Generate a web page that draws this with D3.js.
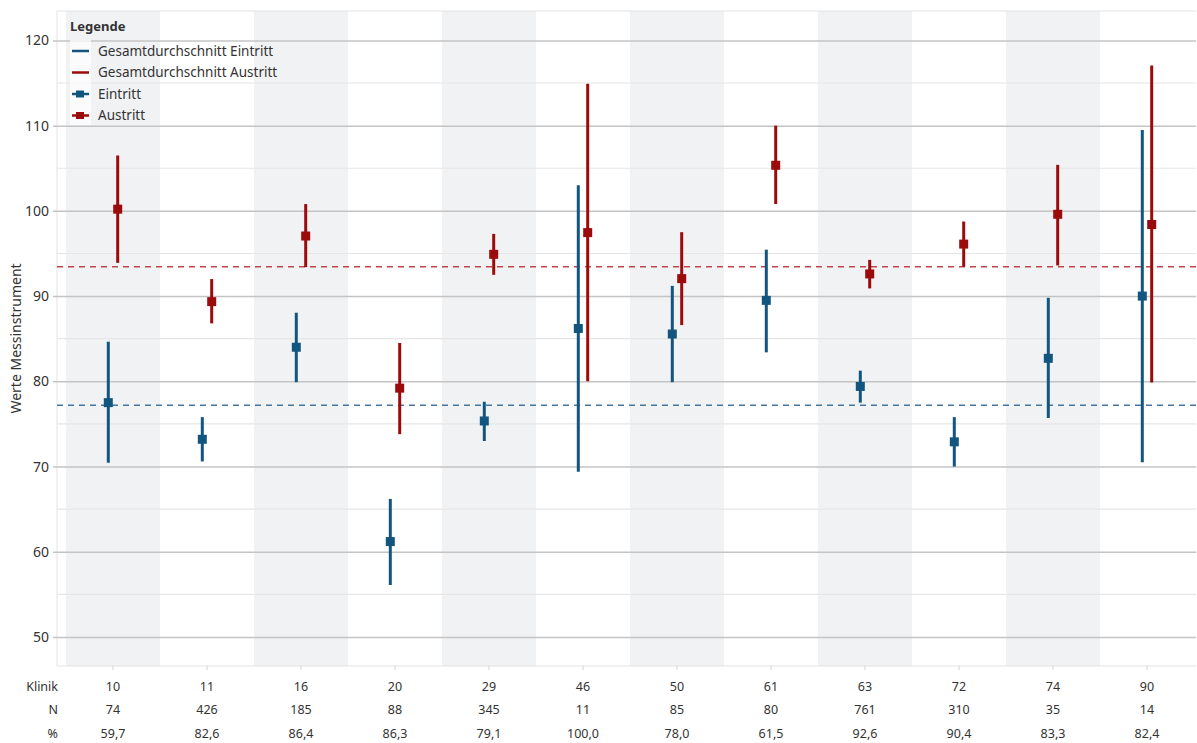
<!DOCTYPE html>
<html>
<head>
	<meta charset="utf-8">
	<title>Werte Messinstrument nach Klinik</title>
	<script src="https://d3js.org/d3.v7.min.js"></script>
	<style>
		body { margin: 0; background: #fff; }
		text { font-family: "Noto Sans", "Open Sans", sans-serif; fill: #333; }
	</style>
</head>
<body>
	<div id="chart"></div>
	<script>
		// data
		var kliniken = ["10","11","16","20","29","46","50","61","63","72","74","90"];
		var nValues = ["74","426","185","88","345","11","85","80","761","310","35","14"];
		var pctValues = ["59,7","82,6","86,4","86,3","79,1","100,0","78,0","61,5","92,6","90,4","83,3","82,4"];

		var eintrittMean = [77.5, 73.2, 84.0, 61.2, 75.35, 86.2, 85.55, 89.5, 79.4, 72.9, 82.7, 90.0];
		var eintrittLow  = [70.45, 70.6, 79.9, 56.1, 73.0, 69.4, 79.9, 83.4, 77.5, 70.0, 75.7, 70.5];
		var eintrittHigh = [84.65, 75.8, 88.05, 66.2, 77.6, 103.0, 91.2, 95.45, 81.25, 75.8, 89.8, 109.5];

		var austrittMean = [100.2, 89.35, 97.05, 79.2, 94.9, 97.45, 92.05, 105.35, 92.6, 96.1, 99.6, 98.4];
		var austrittLow  = [93.9, 86.8, 93.4, 73.8, 92.5, 80.0, 86.6, 100.8, 90.9, 93.45, 93.6, 79.85];
		var austrittHigh = [106.5, 92.0, 100.8, 84.5, 97.3, 114.9, 97.5, 110.0, 94.25, 98.75, 105.4, 117.05];

		var meanEintritt = 77.2;
		var meanAustritt = 93.45;

		var yTicks = [50, 60, 70, 80, 90, 100, 110, 120];
		var yMinor = [55, 65, 75, 85, 95, 105, 115];

		var w = 1197, h = 743;
		var blue = "#12557e", red = "#9c0b0b";

		var svg = d3.select("#chart").append("svg")
			.attr("width", w)
			.attr("height", h);

		// plot area (note: "top" is reserved on window, hence plot*)
		var plotLeft = 57, plotRight = 1196, plotTop = 11, plotBottom = 666;

		var x = d3.scaleBand().domain(kliniken).range([66, 1194]).padding(0);
		var y = d3.scaleLinear().domain([46.6, 123.45]).range([plotBottom, plotTop]);

		// alternating background bands
		svg.selectAll(".band")
			.data(kliniken.filter(function(d, i) { return i % 2 == 0; }))
			.enter().append("rect")
			.attr("class", "band")
			.attr("x", function(d) { return x(d); })
			.attr("y", plotTop)
			.attr("width", x.bandwidth())
			.attr("height", plotBottom - plotTop)
			.attr("fill", "#f1f2f4");

		// plot border (top, left, bottom)
		svg.append("path")
			.attr("d", "M" + plotRight + "," + plotTop + "H" + plotLeft + "V" + plotBottom + "H" + plotRight)
			.attr("fill", "none")
			.attr("stroke", "#e3e3e3")
			.attr("stroke-width", 1);

		// minor grid
		svg.selectAll(".minor")
			.data(yMinor)
			.enter().append("line")
			.attr("x1", plotLeft).attr("x2", plotRight)
			.attr("y1", function(d) { return y(d); })
			.attr("y2", function(d) { return y(d); })
			.attr("stroke", "#e6e6e6")
			.attr("stroke-width", 1.2);

		// y axis with major grid
		var yAxis = d3.axisLeft(y)
			.tickValues(yTicks)
			.tickSize(4)
			.tickFormat(d3.format("d"));

		var gy = svg.append("g")
			.attr("transform", "translate(" + plotLeft + ",0)")
			.call(yAxis);
		gy.select(".domain").remove();
		gy.selectAll(".tick line")
			.attr("x1", -4)
			.attr("x2", plotRight - plotLeft)
			.attr("stroke", "#c4c4c4")
			.attr("stroke-width", 1.5);
		gy.selectAll(".tick text")
			.attr("x", -8)
			.style("font-family", "'Noto Sans', sans-serif")
			.style("font-size", "14px")
			.attr("fill", "#333");

		svg.append("text")
			.attr("transform", "translate(21," + ((plotTop + plotBottom) / 2) + ") rotate(-90)")
			.attr("text-anchor", "middle")
			.style("font-size", "14px")
			.text("Werte Messinstrument");

		// x ticks at the bottom
		var xAxis = d3.axisBottom(x).tickSize(4).tickFormat("");
		var gx = svg.append("g")
			.attr("transform", "translate(0," + plotBottom + ")")
			.call(xAxis);
		gx.select(".domain").remove();
		gx.selectAll(".tick line").attr("stroke", "#d0d0d0");

		// overall mean lines
		svg.append("line")
			.attr("x1", plotLeft).attr("x2", plotRight)
			.attr("y1", y(meanAustritt)).attr("y2", y(meanAustritt))
			.attr("stroke", "#c04448")
			.attr("stroke-width", 1.6)
			.attr("stroke-dasharray", "6,5");
		svg.append("line")
			.attr("x1", plotLeft).attr("x2", plotRight)
			.attr("y1", y(meanEintritt)).attr("y2", y(meanEintritt))
			.attr("stroke", "#4476a0")
			.attr("stroke-width", 1.6)
			.attr("stroke-dasharray", "6,5");

		// error bars + points
		function drawSeries(mean, low, high, color, offset) {
			var cx = function(d, i) { return x(kliniken[i]) + x.bandwidth() / 2 + offset; };
			var g = svg.append("g");
			g.selectAll("line")
				.data(mean)
				.enter().append("line")
				.attr("x1", cx).attr("x2", cx)
				.attr("y1", function(d, i) { return y(low[i]); })
				.attr("y2", function(d, i) { return y(high[i]); })
				.attr("stroke", color)
				.attr("stroke-width", 3);
			g.selectAll("rect")
				.data(mean)
				.enter().append("rect")
				.attr("x", function(d, i) { return cx(d, i) - 4.5; })
				.attr("y", function(d) { return y(d) - 4.5; })
				.attr("width", 9)
				.attr("height", 9)
				.attr("fill", color);
		}
		drawSeries(eintrittMean, eintrittLow, eintrittHigh, blue, -4.7);
		drawSeries(austrittMean, austrittLow, austrittHigh, red, 4.7);

		// legend
		var legend = svg.append("g");
		legend.append("rect")
			.attr("x", 70).attr("y", 40)
			.attr("width", 21).attr("height", 85)
			.attr("fill", "#fff").attr("opacity", 0.7);
		legend.append("text")
			.attr("x", 70).attr("y", 31)
			.style("font-size", "13px")
			.style("font-weight", "bold")
			.attr("fill", "#111")
			.text("Legende");
		var legendItems = [
			{ label: "Gesamtdurchschnitt Eintritt", color: blue, marker: false },
			{ label: "Gesamtdurchschnitt Austritt", color: red, marker: false },
			{ label: "Eintritt", color: blue, marker: true },
			{ label: "Austritt", color: red, marker: true }
		];
		var li = legend.selectAll(".li")
			.data(legendItems)
			.enter().append("g")
			.attr("transform", function(d, i) { return "translate(0," + (51 + i * 21.5) + ")"; });
		li.append("line")
			.attr("x1", 72).attr("x2", 89)
			.attr("y1", 0).attr("y2", 0)
			.attr("stroke", function(d) { return d.color; })
			.attr("stroke-width", 2.5);
		li.filter(function(d) { return d.marker; })
			.append("rect")
			.attr("x", 76).attr("y", -3.5)
			.attr("width", 8).attr("height", 7)
			.attr("fill", function(d) { return d.color; });
		li.append("text")
			.attr("x", 98).attr("y", 4.5)
			.style("font-size", "13.5px")
			.text(function(d) { return d.label; });

		// table under the chart
		var rows = [
			{ label: "Klinik", values: kliniken, y: 691 },
			{ label: "N", values: nValues, y: 714 },
			{ label: "%", values: pctValues, y: 738 }
		];
		rows.forEach(function(r) {
			svg.append("text")
				.attr("x", 58).attr("y", r.y)
				.attr("text-anchor", "end")
				.style("font-size", "12.5px")
				.text(r.label);
			svg.selectAll(null)
				.data(r.values)
				.enter().append("text")
				.attr("x", function(d, i) { return x(kliniken[i]) + x.bandwidth() / 2; })
				.attr("y", r.y)
				.attr("text-anchor", "middle")
				.style("font-size", "12.5px")
				.text(function(d) { return d; });
		});
	</script>
</body>
</html>
